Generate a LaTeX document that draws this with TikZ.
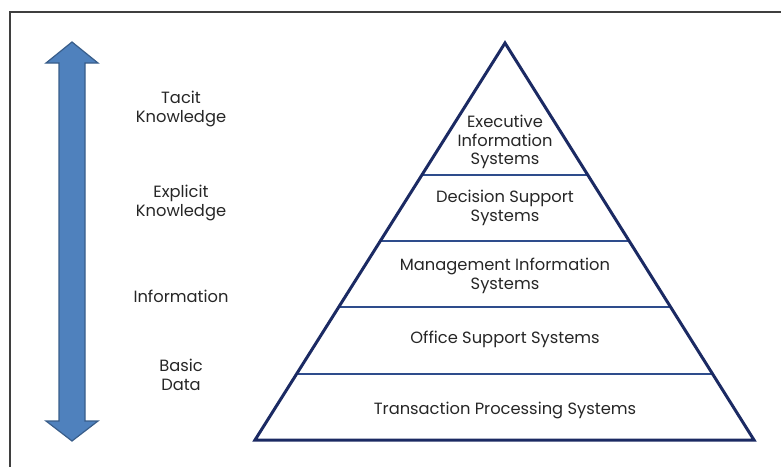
\documentclass[tikz,border=0pt]{standalone}
\usepackage{fontspec}
\setmainfont{Poppins}
\usetikzlibrary{calc}
\definecolor{arrowfill}{HTML}{4F81BD}
\definecolor{arrowdraw}{HTML}{385D8A}
\definecolor{pyrline}{HTML}{1B2A63}
\definecolor{divline}{HTML}{2E4C8C}
\definecolor{frame}{HTML}{3F3F3F}
\tikzset{
  lbl/.style={align=center, font=\fontsize{16.3}{18.5}\selectfont, text=black!85, inner sep=0pt},
  pyr/.style={draw=pyrline, line width=3pt, line join=miter},
  divider/.style={draw=divline, line width=2.5pt},
  bigarrow/.style={fill=arrowfill, draw=arrowdraw, line width=1.2pt, line join=miter}
}
\begin{document}
\begin{tikzpicture}[x=1pt,y=-1pt]
\useasboundingbox (0,0) rectangle (781,466);
% frame (top and left edges visible)
\draw[frame, line width=2pt] (10,470) -- (10,12) -- (785,12);
% double arrow
\draw[bigarrow] (72,42) -- (98,63) -- (85,63) -- (85,421) -- (98,421) -- (72,441)
  -- (46,421) -- (59,421) -- (59,63) -- (46,63) -- cycle;
% pyramid
\coordinate (apex) at (505,43);
\coordinate (bl) at (255,440);
\coordinate (br) at (754,440);
\foreach \t in {0.3325,0.4987,0.665,0.8338}{
  \draw[divider] ($(apex)!\t!(bl)$) -- ($(apex)!\t!(br)$);
}
\draw[pyr] (apex) -- (bl) -- (br) -- cycle;
% pyramid labels
\node[lbl] (eis) at (505,142) {Executive\\Information\\Systems};
\node[lbl] (dss) at (505,208) {Decision Support\\Systems};
\node[lbl] (mis) at (505,276) {Management Information\\Systems};
\node[lbl] (oss) at (505,339) {Office Support Systems};
\node[lbl] (tps) at (505,410) {Transaction Processing Systems};
% side labels
\node[lbl] (tacit) at (181,109) {Tacit\\Knowledge};
\node[lbl] (explicit) at (181,203) {Explicit\\Knowledge};
\node[lbl] (info) at (181,296) {Information};
\node[lbl] (basic) at (181,375) {Basic\\Data};
\end{tikzpicture}
\end{document}
